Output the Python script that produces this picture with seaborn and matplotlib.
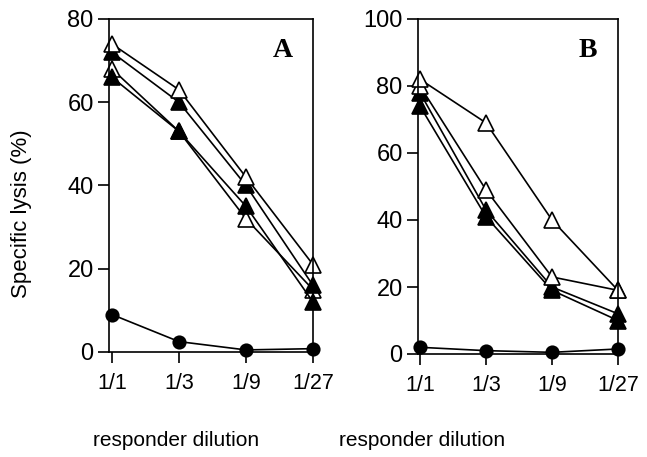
import matplotlib
matplotlib.use("Agg")
import matplotlib.pyplot as plt
import seaborn as sns
import pandas as pd
import numpy as np

sns.set_style("ticks")
plt.rcParams['font.family'] = ['Liberation Sans', 'DejaVu Sans']
plt.rcParams['text.color'] = 'black'
plt.rcParams['xtick.color'] = 'black'
plt.rcParams['ytick.color'] = 'black'
plt.rcParams['axes.labelcolor'] = 'black'

dilutions = ["1/1", "1/3", "1/9", "1/27"]

# Panel A
a_open1 = [74, 63, 42, 21]
a_filled1 = [72, 60, 40, 16]
a_open2 = [68, 53, 32, 15]
a_filled2 = [66, 53, 35, 12]
a_circle = [9, 2.5, 0.5, 0.8]

# Panel B
b_open1 = [82, 69, 40, 19]
b_open2 = [80, 49, 23, 19]
b_filled1 = [78, 43, 20, 12]
b_filled2 = [74, 41, 19, 10]
b_circle = [2, 1, 0.5, 1.5]

a_yticks = [0, 20, 40, 60, 80]
b_yticks = [0, 20, 40, 60, 80, 100]

fig = plt.figure(figsize=(6.47, 4.57), dpi=100)
axA = fig.add_axes([109/647, 1-352/457, 204/647, 333/457])
axB = fig.add_axes([418/647, 1-354/457, 200/647, 335/457])

xpos = np.arange(len(dilutions))

def draw(ax, series, yticks, ymax, xlim, letter):
    for vals, marker, fc, ms in series:
        df = pd.DataFrame({"x": xpos, "y": vals})
        sns.lineplot(data=df, x="x", y="y", ax=ax, color="black", lw=1.2,
                     marker=marker, markersize=ms, markerfacecolor=fc,
                     markeredgecolor="black", markeredgewidth=1.2,
                     estimator=None, sort=False, clip_on=False, legend=False)
    ax.set_xlim(*xlim)
    ax.set_ylim(0, ymax)
    ax.set_xticks(xpos)
    ax.set_xticklabels(dilutions, fontsize=15.5)
    ax.set_yticks(yticks)
    ax.set_yticklabels([str(t) for t in yticks], fontsize=17)
    ax.tick_params(axis='both', direction='out', length=8, width=1.2, color='black', pad=3)
    ax.tick_params(axis='x', pad=7)
    ax.set_xlabel("")
    ax.set_ylabel("")
    for s in ax.spines.values():
        s.set_visible(True)
        s.set_linewidth(1.2)
        s.set_color("black")
    ax.text(0.85, 0.905, letter, transform=ax.transAxes, ha="center", va="center",
            fontsize=20, fontweight="bold", family="Liberation Serif", color="black")

draw(axA, [(a_circle, "o", "black", 9),
           (a_open2, "^", "white", 12),
           (a_filled2, "^", "black", 12),
           (a_filled1, "^", "black", 12),
           (a_open1, "^", "white", 12)],
     a_yticks, 80, (-0.044, 2.956), "A")
draw(axB, [(b_circle, "o", "black", 9),
           (b_filled2, "^", "black", 12),
           (b_filled1, "^", "black", 12),
           (b_open2, "^", "white", 12),
           (b_open1, "^", "white", 12)],
     b_yticks, 100, (-0.03, 2.88), "B")

fig.text(22/647, 1-214/457, "Specific lysis (%)", rotation=90, ha="center", va="center",
         fontsize=16, color="black")
fig.text(176/647, 1-440/457, "responder dilution", ha="center", va="center",
         fontsize=15, color="black")
fig.text(422/647, 1-440/457, "responder dilution", ha="center", va="center",
         fontsize=15, color="black")

fig.savefig("out.png", dpi=100)
